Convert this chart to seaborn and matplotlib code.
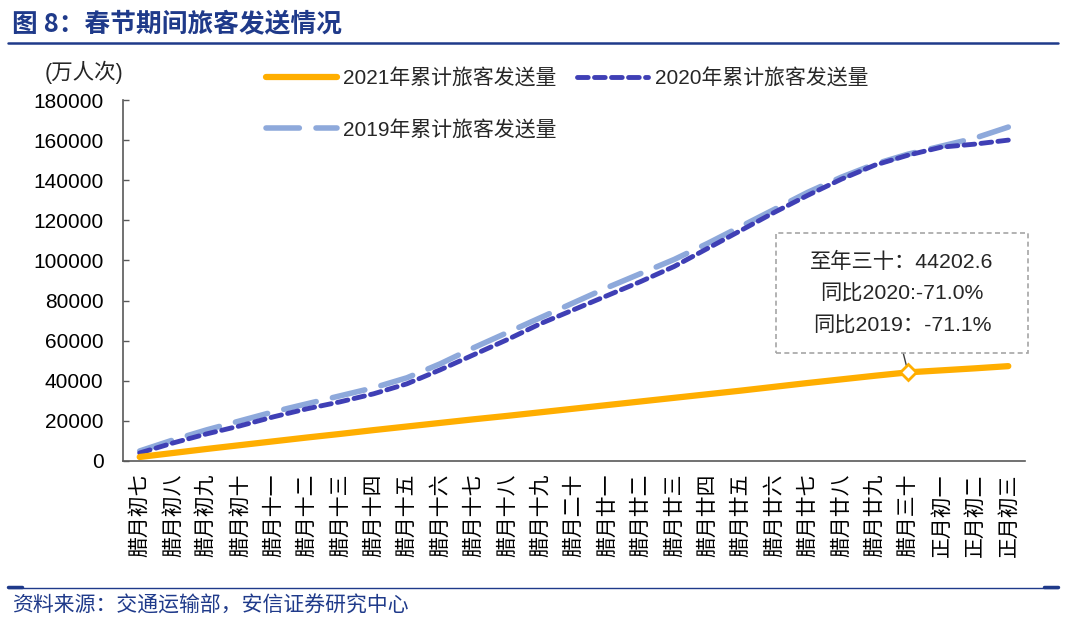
import seaborn as sns
import pandas as pd
import numpy as np
import matplotlib.pyplot as plt
import matplotlib.patches as patches
from matplotlib.lines import Line2D

days = ["腊月初七", "腊月初八", "腊月初九", "腊月初十", "腊月十一", "腊月十二", "腊月十三",
        "腊月十四", "腊月十五", "腊月十六", "腊月十七", "腊月十八", "腊月十九", "腊月二十",
        "腊月廿一", "腊月廿二", "腊月廿三", "腊月廿四", "腊月廿五", "腊月廿六", "腊月廿七",
        "腊月廿八", "腊月廿九", "腊月三十", "正月初一", "正月初二", "正月初三"]
y2021 = [2000, 4000, 6000, 7900, 9800, 11700, 13500, 15400, 17200, 19000, 20800, 22500,
         24300, 26100, 27900, 29700, 31500, 33300, 35100, 37000, 38900, 40700, 42500,
         44202.6, 45200, 46200, 47300]
y2020 = [4000, 9000, 13500, 17500, 22000, 26000, 29500, 33500, 38500, 45500, 53000, 60500,
         68500, 75500, 82500, 89500, 97000, 106000, 115000, 124000, 132500, 140500, 147500,
         152500, 156500, 158000, 160000]
y2019 = [5000, 10500, 15500, 20000, 24500, 28500, 32500, 36500, 41500, 48500, 56500, 64000,
         71500, 79000, 86500, 93500, 100500, 108500, 117000, 125500, 134000, 141500, 148000,
         153000, 157000, 161000, 166500]
labels = ["2021年累计旅客发送量", "2020年累计旅客发送量", "2019年累计旅客发送量"]
note = "至年三十：44202.6\n同比2020:-71.0%\n同比2019：-71.1%"

df = pd.DataFrame({"day": days, "y2021": y2021, "y2020": y2020, "y2019": y2019})

sns.set_theme(style="white")
plt.rcParams['font.family'] = ['Liberation Sans', 'Noto Sans CJK SC']
plt.rcParams['axes.unicode_minus'] = False

c21 = "#FFAE00"
c20 = "#3F3FB5"
c19 = "#8EA9DB"
navy = "#1F3A8A"

fig = plt.figure(figsize=(10.8, 6.23), dpi=100)
ax = fig.add_axes([123 / 1080, 1 - 461 / 623, 902 / 1080, 361 / 623])

sns.lineplot(data=df, x="day", y="y2019", ax=ax, color=c19, lw=4, sort=False)
sns.lineplot(data=df, x="day", y="y2020", ax=ax, color=c20, lw=3.5, sort=False)
sns.lineplot(data=df, x="day", y="y2021", ax=ax, color=c21, lw=4.5, sort=False)
ax.lines[0].set_dashes([6, 3])
ax.lines[0].set_dash_capstyle("round")
ax.lines[1].set_dashes([2.2, 1.3])
ax.lines[1].set_dash_capstyle("round")

# marker at new year's eve
i30 = days.index("腊月三十")
ax.plot([i30], [y2021[i30]], marker="D", ms=8, mfc="white", mec=c21, mew=2, zorder=5)

ax.set_xlim(-0.5, len(days) - 0.5)
ax.set_ylim(0, 180000)
ax.set_yticks(np.arange(0, 180001, 20000))
ax.set_xticks(range(len(days)))
ax.set_xticklabels(days, rotation=90)
ax.set_xticks(np.arange(-0.5, len(days), 1), minor=True)
ax.tick_params(axis="x", which="major", length=0, pad=9, labelsize=15, labelcolor="black")
ax.tick_params(axis="x", which="minor", direction="in", length=4, width=1, color="#595959")
ax.tick_params(axis="y", direction="in", length=4, width=1, color="#595959", pad=14,
               labelsize=15, labelcolor="black", left=True)
ax.set_xlabel("")
ax.set_ylabel("")
for s in ["top", "right"]:
    ax.spines[s].set_visible(False)
for s in ["left", "bottom"]:
    ax.spines[s].set_color("#595959")
    ax.spines[s].set_linewidth(1.2)

# legend
h21 = Line2D([], [], color=c21, lw=4.5)
h20 = Line2D([], [], color=c20, lw=3.5, dashes=[2.2, 1.3], dash_capstyle="round")
h19 = Line2D([], [], color=c19, lw=4, dashes=[6, 3], dash_capstyle="round")
fig.legend([h21, h19, h20], [labels[0], labels[2], labels[1]], ncol=2, frameon=False,
           loc="upper left", bbox_to_anchor=(266 / 1080, 1 - 68 / 623), fontsize=15,
           handlelength=3.4, handletextpad=0.3, columnspacing=1.0, labelspacing=1.5,
           borderpad=0, borderaxespad=0)

# note box
box = patches.Rectangle((0.724, 0.299), 0.279, 0.332, transform=ax.transAxes, fill=True,
                        facecolor="white", edgecolor="#A6A6A6", ls=(0, (3, 2)), lw=1.2,
                        clip_on=False, zorder=4)
ax.add_patch(box)
ax.text(0.8635, 0.463, note, transform=ax.transAxes, ha="center", va="center",
        fontsize=15.3, linespacing=1.8, zorder=6)
ax.annotate("", xy=(i30, y2021[i30]), xytext=(0.865, 0.299), textcoords="axes fraction",
            arrowprops=dict(arrowstyle="-", color="#404040", lw=1, shrinkA=0, shrinkB=4))

fig.text(45 / 1080, 1 - 72 / 623, "(万人次)", fontsize=15.5, va="center", ha="left")

# header / footer
fig.text(12 / 1080, 1 - 24 / 623, "图 8：春节期间旅客发送情况", fontsize=18.5, fontweight="bold",
         color=navy, va="center", ha="left", family=["Noto Sans CJK SC"])
fig.add_artist(Line2D([8 / 1080, 1058 / 1080], [1 - 43 / 623] * 2, color=navy, lw=1.8))
fig.add_artist(Line2D([8 / 1080, 1058 / 1080], [1 - 588 / 623] * 2, color=navy, lw=1))
fig.add_artist(Line2D([8 / 1080, 22 / 1080], [1 - 587 / 623] * 2, color=navy, lw=2.5))
fig.add_artist(Line2D([1044 / 1080, 1058 / 1080], [1 - 587 / 623] * 2, color=navy, lw=2.5))
fig.text(12 / 1080, 1 - 606 / 623, "资料来源：交通运输部，安信证券研究中心", fontsize=15,
         color=navy, va="center", ha="left", family=["Noto Sans CJK SC"], style="italic")

plt.savefig("out.png", dpi=100)
